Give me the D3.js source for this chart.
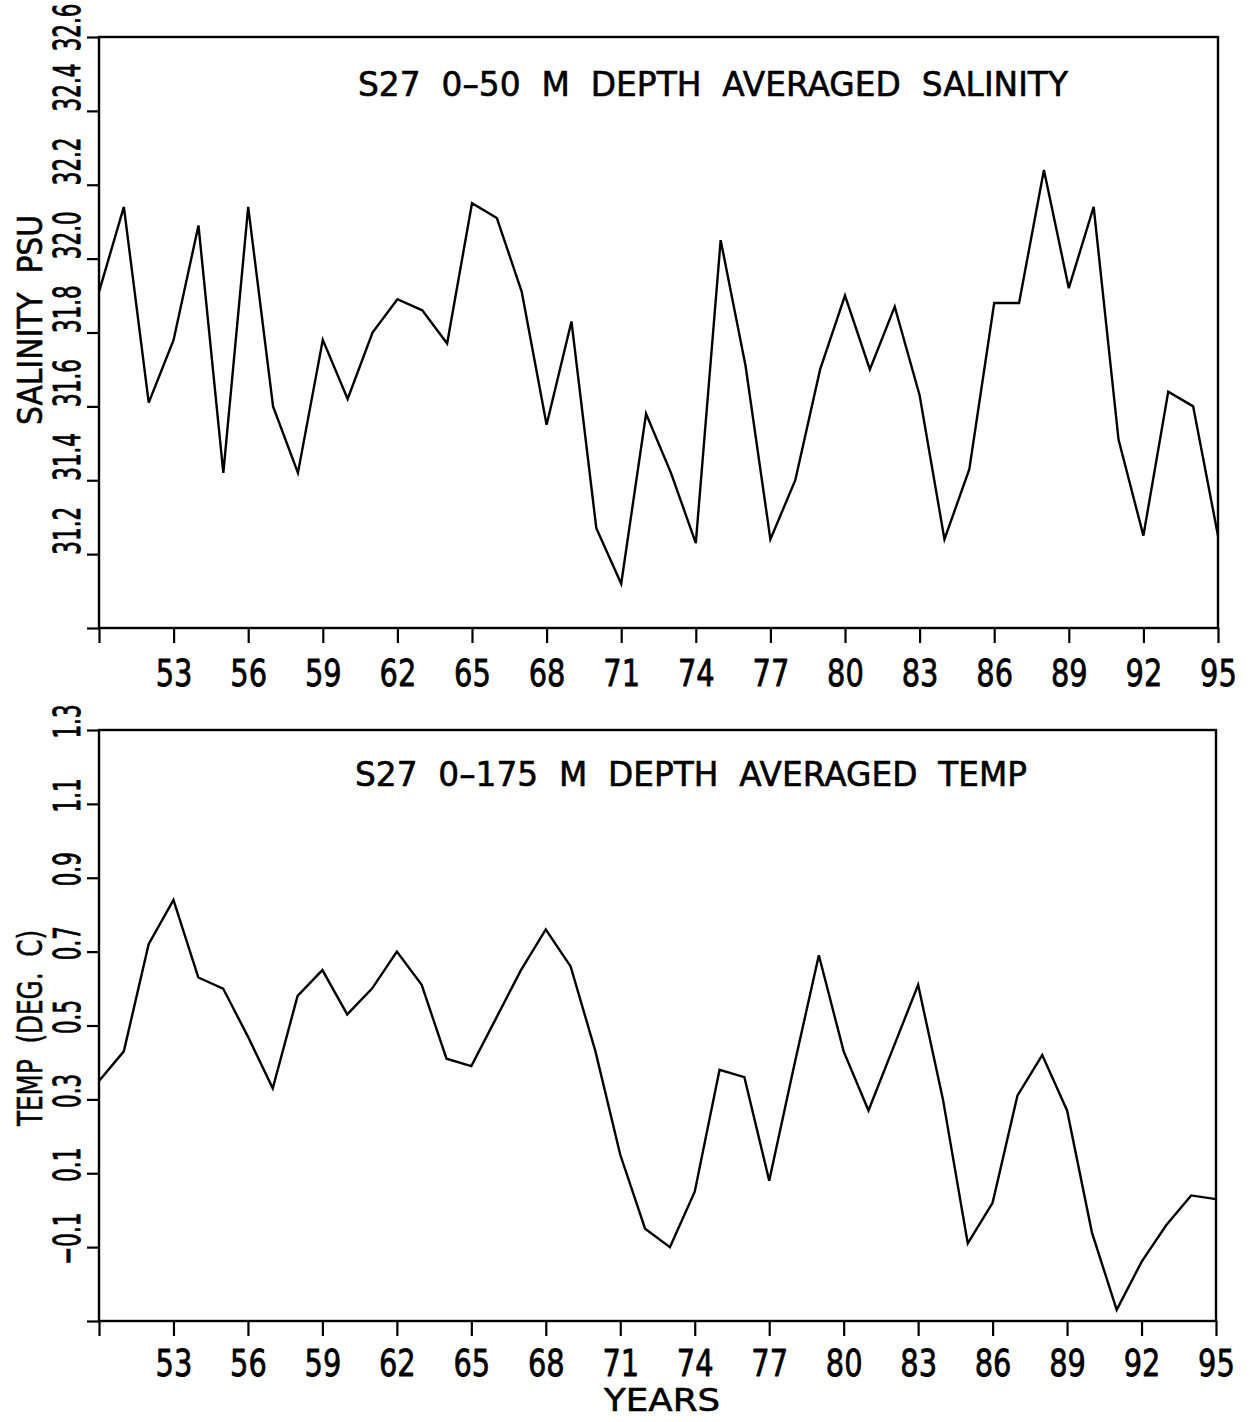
<!DOCTYPE html>
<html>
<head>
<meta charset="utf-8">
<script src="https://cdn.jsdelivr.net/npm/d3@7"></script>
<style>
  html, body { margin: 0; padding: 0; background: #fff; }
  svg { display: block; }
</style>
</head>
<body>
<svg id="chart" width="1256" height="1422"></svg>
<script>
// Station 27 annual series, 1950–1995
const years = [50, 51, 52, 53, 54, 55, 56, 57, 58, 59,
               60, 61, 62, 63, 64, 65, 66, 67, 68, 69,
               70, 71, 72, 73, 74, 75, 76, 77, 78, 79,
               80, 81, 82, 83, 84, 85, 86, 87, 88, 89,
               90, 91, 92, 93, 94, 95];

// 0-50 m depth averaged salinity (PSU)
const salinity = [31.91, 32.14, 31.61, 31.78, 32.09, 31.42, 32.14, 31.60, 31.42, 31.78,
                  31.62, 31.80, 31.89, 31.86, 31.77, 32.15, 32.11, 31.91, 31.55, 31.83,
                  31.27, 31.12, 31.58, 31.42, 31.23, 32.05, 31.71, 31.24, 31.40, 31.70,
                  31.90, 31.70, 31.87, 31.63, 31.24, 31.43, 31.88, 31.88, 32.24, 31.92,
                  32.14, 31.51, 31.25, 31.64, 31.60, 31.25];

// 0-175 m depth averaged temperature (deg C)
const temperature = [0.35, 0.43, 0.72, 0.84, 0.63, 0.60, 0.47, 0.33, 0.58, 0.65,
                     0.53, 0.60, 0.70, 0.61, 0.41, 0.39, 0.52, 0.65, 0.76, 0.66,
                     0.43, 0.15, -0.05, -0.10, 0.05, 0.38, 0.36, 0.08, 0.39, 0.69,
                     0.43, 0.27, 0.44, 0.61, 0.30, -0.09, 0.02, 0.31, 0.42, 0.27,
                     -0.06, -0.27, -0.14, -0.04, 0.04, 0.03];

const yearTicks = [50, 53, 56, 59, 62, 65, 68, 71, 74, 77, 80, 83, 86, 89, 92, 95];
const salinityTicks = [31.0, 31.2, 31.4, 31.6, 31.8, 32.0, 32.2, 32.4, 32.6];
const tempTicks = [-0.3, -0.1, 0.1, 0.3, 0.5, 0.7, 0.9, 1.1, 1.3];

const svg = d3.select("#chart");
const FONT = "'DejaVu Sans', sans-serif";
const INK = "#000";

// Plotter-style lettering is taller and narrower than screen fonts.
function condense(sel, factor) {
  sel.each(function () {
    const n = this.getComputedTextLength();
    if (n > 0) {
      d3.select(this)
        .attr("textLength", n * factor)
        .attr("lengthAdjust", "spacingAndGlyphs");
    }
  });
}

// Slightly heavier pen strokes for lettering
function pen(sel, w) {
  sel.attr("fill", INK).attr("stroke", INK).attr("stroke-width", w)
     .attr("stroke-linejoin", "round");
}

function drawPanel(cfg) {
  const x = d3.scaleLinear().domain([50, 95]).range([cfg.left, cfg.right]);
  const y = d3.scaleLinear().domain(cfg.domain).range([cfg.bottom, cfg.top]);
  const g = svg.append("g");

  // Frame
  g.append("rect")
    .attr("x", cfg.left).attr("y", cfg.top)
    .attr("width", cfg.right - cfg.left).attr("height", cfg.bottom - cfg.top)
    .attr("fill", "none").attr("stroke", INK).attr("stroke-width", 2.4);

  // Year axis
  const xa = g.append("g")
    .attr("transform", `translate(0,${cfg.bottom})`)
    .call(d3.axisBottom(x)
      .tickValues(yearTicks)
      .tickSize(15)
      .tickSizeOuter(0)
      .tickFormat(d => d === 50 ? "" : String(d)));
  xa.select(".domain").remove();
  xa.selectAll(".tick line").attr("stroke", INK).attr("stroke-width", 2.2);
  xa.selectAll(".tick text")
    .attr("y", cfg.xLabelOffset).attr("dy", null)
    .style("font-family", FONT).style("font-size", "38px")
    .call(pen, 0.8)
    .call(condense, 0.76);

  // Value axis with labels reading upward, narrowed along the reading direction
  const squeeze = 0.58;
  const margin = 3;
  const ya = g.append("g")
    .attr("transform", `translate(${cfg.left},0)`)
    .call(d3.axisLeft(y)
      .tickValues(cfg.ticks)
      .tickSize(12)
      .tickSizeOuter(0)
      .tickFormat(d => d === cfg.domain[0] ? "" : d3.format(".1f")(d)));
  ya.select(".domain").remove();
  ya.selectAll(".tick line").attr("stroke", INK).attr("stroke-width", 2.2);
  ya.selectAll(".tick text")
    .attr("y", -19).attr("dy", null)
    .attr("text-anchor", cfg.yLabelAnchor)
    .style("font-family", FONT).style("font-size", "37px")
    .call(pen, 0.9)
    .each(function (d) {
      const len = this.getComputedTextLength() * squeeze;
      let shift = cfg.yLabelShift;
      const reach = shift + (cfg.yLabelAnchor === "start" ? len : len / 2);
      const top = y(d) - reach;
      if (len && top < margin) shift -= (margin - top);
      d3.select(this)
        .attr("x", shift / squeeze)
        .attr("transform", `rotate(-90) scale(${squeeze},1)`);
    });

  // Axis title
  g.append("text")
    .attr("transform", `translate(42,${cfg.yTitleY}) rotate(-90)`)
    .attr("text-anchor", "middle")
    .style("font-family", FONT).style("font-size", "33px")
    .style("white-space", "pre")
    .attr("textLength", cfg.yTitleWidth)
    .attr("lengthAdjust", "spacingAndGlyphs")
    .call(pen, 0.6)
    .text(cfg.yTitle);

  // Panel title
  g.append("text")
    .attr("x", cfg.titleX).attr("y", cfg.titleY)
    .style("font-family", FONT).style("font-size", "33px")
    .style("white-space", "pre")
    .attr("textLength", cfg.titleWidth)
    .attr("lengthAdjust", "spacingAndGlyphs")
    .call(pen, 0.6)
    .text(cfg.title);

  // Series
  const line = d3.line()
    .x((d, i) => x(years[i]))
    .y(d => y(d));
  g.append("path")
    .datum(cfg.values)
    .attr("d", line)
    .attr("fill", "none")
    .attr("stroke", INK)
    .attr("stroke-width", 2.4)
    .attr("stroke-linejoin", "miter");

  return { x, y };
}

drawPanel({
  left: 99, right: 1218, top: 37, bottom: 628,
  domain: [31.0, 32.6], ticks: salinityTicks, values: salinity,
  xLabelOffset: 58,
  yLabelAnchor: "start", yLabelShift: 0,
  yTitle: "SALINITY  PSU", yTitleY: 320, yTitleWidth: 210,
  title: "S27  0–50  M  DEPTH  AVERAGED  SALINITY",
  titleX: 358, titleY: 96, titleWidth: 710
});

drawPanel({
  left: 99, right: 1216, top: 730, bottom: 1321,
  domain: [-0.3, 1.3], ticks: tempTicks, values: temperature,
  xLabelOffset: 55,
  yLabelAnchor: "middle", yLabelShift: 9,
  yTitle: "TEMP  (DEG.  C)", yTitleY: 1028, yTitleWidth: 196,
  title: "S27  0–175  M  DEPTH  AVERAGED  TEMP",
  titleX: 355, titleY: 786, titleWidth: 672
});

svg.append("text")
  .attr("x", 662).attr("y", 1411)
  .attr("text-anchor", "middle")
  .style("font-family", FONT).style("font-size", "32px")
  .attr("textLength", 116)
  .attr("lengthAdjust", "spacingAndGlyphs")
  .call(pen, 0.6)
  .text("YEARS");
</script>
</body>
</html>
